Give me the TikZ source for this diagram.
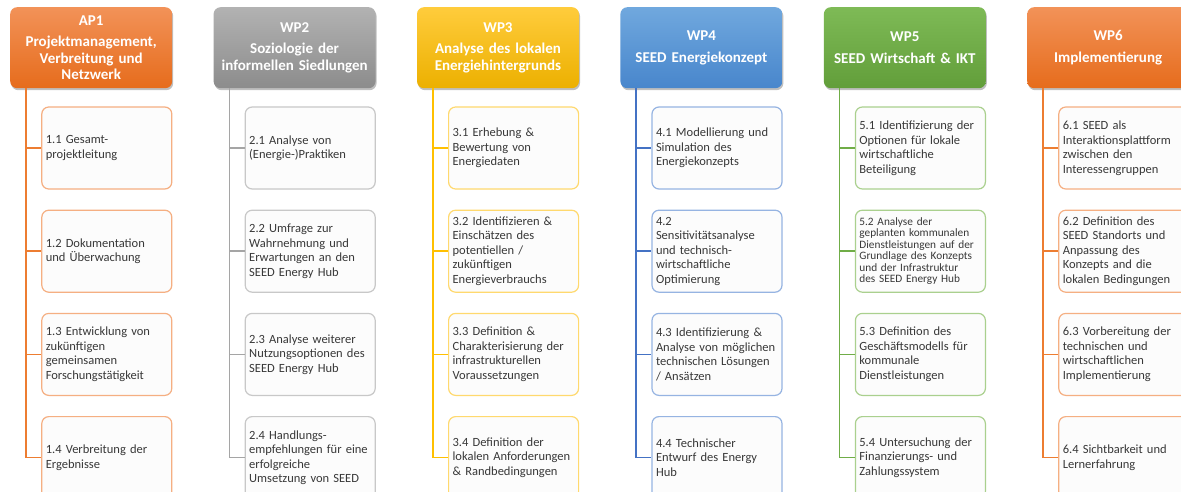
\documentclass[tikz,border=0pt]{standalone}
\usepackage{fontspec}
\setmainfont{Carlito}
\usetikzlibrary{positioning,shadows}
\definecolor{orgtop}{RGB}{242,146,88}
\definecolor{orgbot}{RGB}{230,108,28}
\definecolor{orgline}{RGB}{237,125,49}
\definecolor{orglite}{RGB}{245,175,130}
\definecolor{grytop}{RGB}{178,178,178}
\definecolor{grybot}{RGB}{140,140,140}
\definecolor{gryline}{RGB}{165,165,165}
\definecolor{grylite}{RGB}{200,200,200}
\definecolor{goldtop}{RGB}{255,204,60}
\definecolor{goldbot}{RGB}{236,176,0}
\definecolor{goldline}{RGB}{255,192,0}
\definecolor{goldlite}{RGB}{255,217,110}
\definecolor{blutop}{RGB}{112,168,222}
\definecolor{blubot}{RGB}{72,134,204}
\definecolor{bluline}{RGB}{68,114,196}
\definecolor{blulite}{RGB}{150,180,226}
\definecolor{grntop}{RGB}{126,186,86}
\definecolor{grnbot}{RGB}{98,158,58}
\definecolor{grnline}{RGB}{112,173,71}
\definecolor{grnlite}{RGB}{170,208,142}
\definecolor{ink}{RGB}{56,56,56}
\definecolor{card}{RGB}{252,252,252}
\tikzset{
  hdr/.style={rounded corners=7pt, minimum width=162pt, minimum height=81pt,
              text width=154pt, inner sep=4pt, align=center, text=white,
              font=\fontsize{15}{16.5}\selectfont\bfseries,
              drop shadow={shadow xshift=1pt, shadow yshift=-2pt, opacity=0.25, fill=black}},
  task/.style={draw, line width=1.2pt, rounded corners=7pt, fill=card, align=left,
              minimum width=130pt, minimum height=82pt, text width=122pt, inner sep=4pt,
              text=ink, font=\fontsize{12.5}{14.5}\selectfont},
  conn/.style={line width=1.7pt},
}

\begin{document}
\begin{tikzpicture}[node distance=20pt and 41pt]
  \fill[white] (0,0) rectangle (1181pt,-492pt);
  \useasboundingbox (0,0) rectangle (1181pt,-492pt);

  % headers
  \node[hdr, top color=orgtop, bottom color=orgbot, anchor=north west] (h1) at (10pt,-7pt)
    {AP1\\[5pt]Projektmanagement,\\Verbreitung und\\Netzwerk};
  \node[hdr, top color=grytop, bottom color=grybot, right=of h1] (h2)
    {WP2\\[5pt]Soziologie der\\informellen Siedlungen};
  \node[hdr, top color=goldtop, bottom color=goldbot, right=of h2] (h3)
    {WP3\\[5pt]Analyse des lokalen\\Energiehintergrunds};
  \node[hdr, top color=blutop, bottom color=blubot, right=of h3] (h4)
    {WP4\\[5pt]SEED Energiekonzept};
  \node[hdr, top color=grntop, bottom color=grnbot, right=of h4] (h5)
    {WP5\\[5pt]SEED Wirtschaft \& IKT};
  \node[hdr, top color=orgtop, bottom color=orgbot, right=of h5] (h6)
    {WP6\\[5pt]Implementierung};

  % AP1
  \node[task, draw=orglite, below=18pt of h1.south east, anchor=north east] (t11)
    {1.1 Gesamt-\\projektleitung};
  \node[task, draw=orglite, below=of t11] (t12) {1.2 Dokumentation\\und Überwachung};
  \node[task, draw=orglite, below=of t12] (t13)
    {1.3 Entwicklung von\\zukünftigen\\gemeinsamen\\Forschungstätigkeit};
  \node[task, draw=orglite, below=of t13] (t14) {1.4 Verbreitung der\\Ergebnisse};

  % WP2
  \node[task, draw=grylite, below=18pt of h2.south east, anchor=north east] (t21)
    {2.1 Analyse von\\(Energie-)Praktiken};
  \node[task, draw=grylite, below=of t21] (t22)
    {2.2 Umfrage zur\\Wahrnehmung und\\Erwartungen an den\\SEED Energy Hub};
  \node[task, draw=grylite, below=of t22] (t23)
    {2.3 Analyse weiterer\\Nutzungsoptionen des\\SEED Energy Hub};
  \node[task, draw=grylite, below=of t23] (t24)
    {2.4 Handlungs-\\empfehlungen für eine\\erfolgreiche\\Umsetzung von SEED};

  % WP3
  \node[task, draw=goldlite, below=18pt of h3.south east, anchor=north east] (t31)
    {3.1 Erhebung \&\\Bewertung von\\Energiedaten};
  \node[task, draw=goldlite, below=of t31] (t32)
    {3.2 Identifizieren \&\\Einschätzen des\\potentiellen /\\zukünftigen\\Energieverbrauchs};
  \node[task, draw=goldlite, below=of t32] (t33)
    {3.3 Definition \&\\Charakterisierung der\\infrastrukturellen\\Voraussetzungen};
  \node[task, draw=goldlite, below=of t33] (t34)
    {3.4 Definition der\\lokalen Anforderungen\\\& Randbedingungen};

  % WP4
  \node[task, draw=blulite, below=18pt of h4.south east, anchor=north east] (t41)
    {4.1 Modellierung und\\Simulation des\\Energiekonzepts};
  \node[task, draw=blulite, below=of t41] (t42)
    {4.2\\Sensitivitätsanalyse\\und technisch-\\wirtschaftliche\\Optimierung};
  \node[task, draw=blulite, below=of t42] (t43)
    {4.3 Identifizierung \&\\Analyse von möglichen\\technischen Lösungen\\/ Ansätzen};
  \node[task, draw=blulite, below=of t43] (t44)
    {4.4 Technischer\\Entwurf des Energy\\Hub};

  % WP5
  \node[task, draw=grnlite, below=18pt of h5.south east, anchor=north east] (t51)
    {5.1 Identifizierung der\\Optionen für lokale\\wirtschaftliche\\Beteiligung};
  \node[task, draw=grnlite, below=of t51, font=\fontsize{11.3}{11.5}\selectfont] (t52)
    {5.2 Analyse der\\geplanten kommunalen\\Dienstleistungen auf der\\Grundlage des Konzepts\\und der Infrastruktur\\des SEED Energy Hub};
  \node[task, draw=grnlite, below=of t52] (t53)
    {5.3 Definition des\\Geschäftsmodells für\\kommunale\\Dienstleistungen};
  \node[task, draw=grnlite, below=of t53] (t54)
    {5.4 Untersuchung der\\Finanzierungs- und\\Zahlungssystem};

  % WP6
  \node[task, draw=orglite, below=18pt of h6.south east, anchor=north east] (t61)
    {6.1 SEED als\\Interaktionsplattform\\zwischen den\\Interessengruppen};
  \node[task, draw=orglite, below=of t61] (t62)
    {6.2 Definition des\\SEED Standorts und\\Anpassung des\\Konzepts and die\\lokalen Bedingungen};
  \node[task, draw=orglite, below=of t62] (t63)
    {6.3 Vorbereitung der\\technischen und\\wirtschaftlichen\\Implementierung};
  \node[task, draw=orglite, below=of t63] (t64) {6.4 Sichtbarkeit und\\Lernerfahrung};

  % connectors
  \foreach \c/\col in {1/orgline, 2/gryline, 3/goldline, 4/bluline, 5/grnline, 6/orgline}
    \foreach \t in {1,...,4}
      \draw[conn, draw=\col] ([xshift=16pt]h\c.south west) |- (t\c\t.west);
\end{tikzpicture}
\end{document}
